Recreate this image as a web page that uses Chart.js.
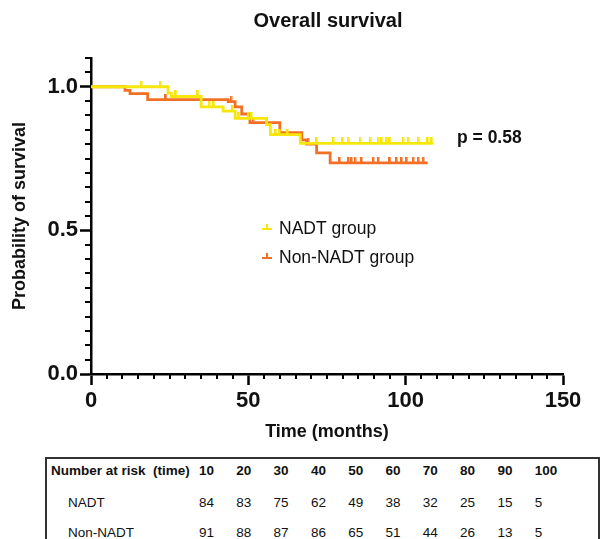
<!DOCTYPE html>
<html>
<head>
<meta charset="utf-8">
<script src="https://cdn.jsdelivr.net/npm/chart.js@4.4.1/dist/chart.umd.min.js"></script>
<style>
  body { margin: 0; background: #fff; font-family: "Liberation Sans", Arial, sans-serif; }
  #wrap { position: relative; width: 600px; height: 539px; overflow: hidden; }
  #chart { position: absolute; left: 0; top: 0; }
  #risk { position: absolute; left: 45px; top: 457px; width: 551px; height: 100px;
          border-top: 2px solid #333; border-left: 2px solid #333; border-right: 2px solid #333; }
  .cell { position: absolute; font-size: 13.5px; color: #111; white-space: pre; line-height: 14px; }
  .hd { font-weight: bold; }
</style>
</head>
<body>
<div id="wrap">
  <canvas id="chart" width="600" height="450"></canvas>
  <div id="risk"></div>
</div>
<script>
// Kaplan-Meier steps (time in months, survival after the drop)
const nadtTimes = [0, 24.5, 25.5, 35, 42, 45.8, 55.8, 57, 66.5, 108.7];
const nadtSurv  = [1, 0.978, 0.966, 0.93, 0.915, 0.89, 0.868, 0.833, 0.803, 0.803];
const nonNadtTimes = [0, 10.8, 12.4, 18, 43.6, 45.8, 47.9, 50.5, 60, 67, 68.5, 71.7, 76, 107];
const nonNadtSurv  = [1, 0.987, 0.976, 0.955, 0.948, 0.93, 0.905, 0.875, 0.84, 0.815, 0.80, 0.77, 0.735, 0.735];

// censored observations
const nadtCensor = [16, 22, 27, 34, 37.5, 39, 45, 47, 50, 51, 58.7, 60, 62.5, 71.7, 77, 80, 81.7,
  85.5, 88.7, 91.3, 92.4, 94, 95, 99.2, 100.8, 104, 107, 108.3];
const nonNadtCensor = [23.8, 44.5, 51.5, 69, 79, 81.8, 82.8, 83.9, 86, 89.7, 91.3, 95, 97.1,
  98.7, 100.3, 102.4, 104, 105.6];

// number at risk table
const riskTimes = [10, 20, 30, 40, 50, 60, 70, 80, 90, 100];
const nadtRisk = [84, 83, 75, 62, 49, 38, 32, 25, 15, 5];
const nonNadtRisk = [91, 88, 87, 86, 65, 51, 44, 26, 13, 5];

const YELLOW = 'rgb(246,230,10)';
const ORANGE = 'rgb(242,112,38)';
const FONT = '"Liberation Sans", Arial, sans-serif';

function survAt(times, surv, t) {
  let s = surv[0];
  for (let i = 0; i < times.length; i++) if (times[i] <= t) s = surv[i];
  return s;
}
function steps(times, surv) {
  return times.map((t, i) => ({ x: t, y: surv[i] }));
}
function censors(cens, times, surv) {
  return cens.map(t => ({ x: t, y: survAt(times, surv, t) }));
}
// small upward tick used as censor mark
function tickMark(color) {
  const c = document.createElement('canvas');
  c.width = 3; c.height = 12;
  const g = c.getContext('2d');
  g.fillStyle = color;
  g.fillRect(0, 0, 2.5, 6);
  return c;
}

const isMajorX = v => Math.abs(v % 50) < 1e-6;
const isMajorY = v => Math.abs(v * 2 - Math.round(v * 2)) < 1e-6 && v < 1.01;

const extras = {
  id: 'extras',
  afterDraw(chart) {
    const ctx = chart.ctx;
    const xs = chart.scales.x, ys = chart.scales.y;
    const area = chart.chartArea;
    ctx.save();
    // minor ticks
    ctx.strokeStyle = '#000';
    ctx.lineWidth = 2;
    xs.ticks.forEach(t => {
      if (isMajorX(t.value)) return;
      const px = Math.round(xs.getPixelForValue(t.value));
      ctx.beginPath(); ctx.moveTo(px, area.bottom); ctx.lineTo(px, area.bottom + 5); ctx.stroke();
    });
    ys.ticks.forEach(t => {
      if (isMajorY(t.value)) return;
      const py = Math.round(ys.getPixelForValue(t.value));
      ctx.beginPath(); ctx.moveTo(area.left, py); ctx.lineTo(area.left - 6, py); ctx.stroke();
    });
    // title
    ctx.fillStyle = '#111';
    ctx.textAlign = 'center';
    ctx.textBaseline = 'middle';
    ctx.font = 'bold 20px ' + FONT;
    ctx.fillText('Overall survival', 328, 21);
    // p value
    ctx.textAlign = 'left';
    ctx.font = 'bold 17.5px ' + FONT;
    ctx.fillText('p = 0.58', 457, 138);
    // legend
    const items = [[YELLOW, 'NADT group', 228], [ORANGE, 'Non-NADT group', 257]];
    ctx.font = '17.5px ' + FONT;
    items.forEach(([col, txt, y]) => {
      ctx.fillStyle = col;
      ctx.fillRect(262, y, 10, 2);
      ctx.fillRect(266, y - 4, 2, 4);
      ctx.fillStyle = '#111';
      ctx.fillText(txt, 279, y + 1);
    });
    ctx.restore();
  }
};

new Chart(document.getElementById('chart'), {
  type: 'line',
  data: {
    datasets: [
      { data: steps(nadtTimes, nadtSurv), borderColor: YELLOW, borderWidth: 2.8,
        stepped: 'before', pointRadius: 0, fill: false, order: 1 },
      { data: censors(nadtCensor, nadtTimes, nadtSurv), showLine: false,
        pointStyle: tickMark(YELLOW), pointRadius: 6, order: 0 },
      { data: steps(nonNadtTimes, nonNadtSurv), borderColor: ORANGE, borderWidth: 2.8,
        stepped: 'before', pointRadius: 0, fill: false, order: 3 },
      { data: censors(nonNadtCensor, nonNadtTimes, nonNadtSurv), showLine: false,
        pointStyle: tickMark(ORANGE), pointRadius: 6, order: 2 }
    ]
  },
  options: {
    responsive: false,
    animation: false,
    events: [],
    layout: { padding: { top: 58, right: 37, left: 0, bottom: 0 } },
    plugins: { legend: { display: false }, title: { display: false }, tooltip: { enabled: false } },
    scales: {
      x: {
        type: 'linear', min: 0, max: 150,
        border: { color: '#000', width: 2.5 },
        grid: { drawOnChartArea: false, tickLength: 11, tickWidth: 2.5,
                tickColor: c => isMajorX(c.tick.value) ? '#000' : 'rgba(0,0,0,0)' },
        ticks: { stepSize: 5, autoSkip: false, maxRotation: 0, padding: 3, color: '#111',
                 font: { family: FONT, size: 22, weight: 'bold' },
                 callback: v => isMajorX(v) ? String(v) : '' },
        title: { display: true, text: 'Time (months)', color: '#111',
                 font: { family: FONT, size: 18, weight: 'bold' },
                 padding: { top: 0, bottom: 7 } },
        afterFit: s => { s.height = 76; }
      },
      y: {
        min: 0, max: 1.1,
        border: { color: '#000', width: 2.5 },
        grid: { drawOnChartArea: false, tickLength: 11, tickWidth: 2.5,
                tickColor: c => isMajorY(c.tick.value) ? '#000' : 'rgba(0,0,0,0)' },
        ticks: { stepSize: 0.05, autoSkip: false, padding: 2, color: '#111',
                 font: { family: FONT, size: 22, weight: 'bold' },
                 callback: v => isMajorY(v) ? v.toFixed(1) : '' },
        title: { display: true, text: 'Probability of survival', color: '#111',
                 font: { family: FONT, size: 18, weight: 'bold' },
                 padding: { top: 9, bottom: 0 } },
        afterFit: s => { s.width = 91; }
      }
    }
  },
  plugins: [extras]
});

// number at risk table
const risk = document.getElementById('risk');
function cell(text, x, y, bold) {
  const d = document.createElement('div');
  d.className = 'cell' + (bold ? ' hd' : '');
  d.textContent = text;
  d.style.left = (x - 47) + 'px';
  d.style.top = (y - 459 - 7) + 'px';
  risk.appendChild(d);
}
cell('Number at risk  (time)', 51, 471, true);
cell('NADT', 68, 503, false);
cell('Non-NADT', 68, 533, false);
riskTimes.forEach((t, i) => {
  const x = 199 + i * 37.3;
  cell(String(t), x, 471, true);
  cell(String(nadtRisk[i]), x, 503, false);
  cell(String(nonNadtRisk[i]), x, 533, false);
});
</script>
</body>
</html>
